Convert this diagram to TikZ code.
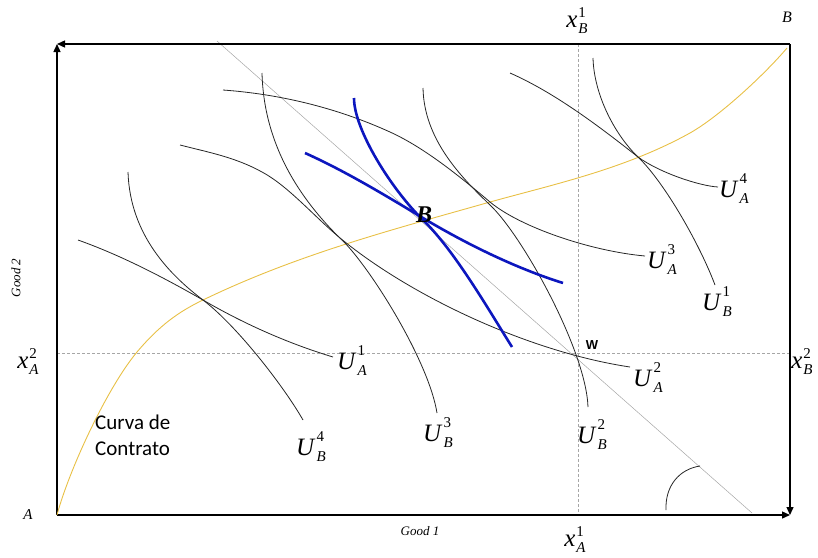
\documentclass[tikz,border=0pt]{standalone}
\usepackage{fontspec}
\setmainfont{Liberation Serif}
\newfontfamily\calibfont{Carlito}
\newfontfamily\arialfont{Liberation Sans}
\usetikzlibrary{arrows.meta}
\definecolor{curveyellow}{RGB}{232,192,70}
\definecolor{curveblue}{RGB}{12,22,190}
\newcommand{\lbl}[4]{\textit{#1}\kern1pt\rlap{\raisebox{#4}{\fontsize{15}{15}\selectfont #2}}\raisebox{-6pt}{\fontsize{15}{15}\selectfont\itshape #3}}
\begin{document}
\begin{tikzpicture}[x=1pt,y=-1pt,
  axis/.style={line width=1.3pt,-{Triangle[length=8pt,width=7pt]}},
  icurve/.style={line width=0.8pt,black!85},
  bluecurve/.style={line width=2.6pt,curveblue},
  contract/.style={line width=0.9pt,curveyellow},
  guide/.style={gray!70,line width=0.5pt,dash pattern=on 3pt off 2pt},
  diag/.style={gray!70,line width=0.5pt},
  ulabel/.style={inner sep=0pt,font=\fontsize{25}{30}\selectfont},
  smalllab/.style={inner sep=0pt,font=\fontsize{14}{16}\selectfont\itshape},
  curvatext/.style={inner sep=0pt,anchor=base west,font=\calibfont\fontsize{21}{25}\selectfont},
]
\useasboundingbox (0,0) rectangle (818,557);
% corners
\coordinate (A0) at (57,515);
\coordinate (TL) at (57,44);
\coordinate (TR) at (790,44);
\coordinate (BR) at (790,515);
% guides
\coordinate (gl) at (57,353);
\coordinate (gr) at (790,353);
\coordinate (gt) at (578,44);
\coordinate (gb) at (578,515);
\coordinate (d1) at (217,41);
\coordinate (d2) at (752,513);
\draw[guide] (gl) -- (gr);
\draw[guide] (gt) -- (gb);
\draw[diag] (d1) -- (d2);
% axes
\draw[axis] (A0) -- (TL);
\draw[axis] (TR) -- (TL);
\draw[axis] (TR) -- (BR);
\draw[axis] (A0) -- (BR);
% angle mark
\draw[icurve] (666,510) .. controls (665,485) and (680,469) .. (700,466);
% contract curve
\draw[contract] (A0) .. controls (69,470) and (107,388) .. (137,352)
  .. controls (159,326) and (178,312) .. (203,300)
  .. controls (298,254) and (395,229) .. (490,202)
  .. controls (555,184) and (625,169) .. (690,133)
  .. controls (720,116) and (765,74) .. (787,48);
% indifference curves of A
\draw[icurve] (78,240) .. controls (120,255) and (161,276) .. (203,300)
  .. controls (246,325) and (290,344) .. (333,357);
\draw[icurve] (180,145) .. controls (207,152) and (235,157) .. (262,172)
  .. controls (290,187) and (317,220) .. (345,242)
  .. controls (415,298) and (530,352) .. (630,367);
\draw[icurve] (223,90) .. controls (278,94) and (335,107) .. (390,132)
  .. controls (423,147) and (457,174) .. (490,202)
  .. controls (520,227) and (590,251) .. (645,256);
\draw[icurve] (510,73) .. controls (553,92) and (595,123) .. (638,157)
  .. controls (660,173) and (700,186) .. (718,187);
% indifference curves of B
\draw[icurve] (128,172) .. controls (130,235) and (170,275) .. (203,300)
  .. controls (236,325) and (283,385) .. (303,420);
\draw[icurve] (262,73) .. controls (264,150) and (305,205) .. (345,243)
  .. controls (375,275) and (429,363) .. (437,413);
\draw[icurve] (423,88) .. controls (424,140) and (462,178) .. (490,205)
  .. controls (522,235) and (586,350) .. (588,407);
\draw[icurve] (593,58) .. controls (594,95) and (615,135) .. (638,157)
  .. controls (665,183) and (700,245) .. (715,285);
% blue curves
\draw[bluecurve] (305,153) .. controls (345,171) and (383,194) .. (423,218)
  .. controls (468,245) and (518,269) .. (563,283);
\draw[bluecurve] (354,98) .. controls (354,130) and (392,190) .. (423,220)
  .. controls (454,250) and (487,307) .. (512,347);
% labels
\node[ulabel] (la1) at (352,361) {\lbl{U}{1}{A}{14pt}};
\node[ulabel] (la2) at (648,378) {\lbl{U}{2}{A}{14pt}};
\node[ulabel] (la3) at (662,260) {\lbl{U}{3}{A}{14pt}};
\node[ulabel] (la4) at (734,189) {\lbl{U}{4}{A}{14pt}};
\node[ulabel] (lb1) at (717,302) {\lbl{U}{1}{B}{14pt}};
\node[ulabel] (lb2) at (592,435) {\lbl{U}{2}{B}{14pt}};
\node[ulabel] (lb3) at (438,433) {\lbl{U}{3}{B}{14pt}};
\node[ulabel] (lb4) at (311,447) {\lbl{U}{4}{B}{14pt}};
\node[ulabel] (xb1) at (577,21) {\lbl{x}{1}{B}{10pt}};
\node[ulabel] (xa1) at (575,540) {\lbl{x}{1}{A}{10pt}};
\node[ulabel] (xa2) at (28,362) {\lbl{x}{2}{A}{10pt}};
\node[ulabel] (xb2) at (802,362) {\lbl{x}{2}{B}{10pt}};
\node[smalllab,font=\fontsize{16}{18}\selectfont\itshape] (Bc) at (787,17) {B};
\node[smalllab,font=\fontsize{15}{18}\selectfont\itshape] (Ac) at (28,515) {A};
\node[smalllab,font=\fontsize{13}{15}\selectfont\itshape] (g1) at (420,531) {Good 1};
\node[smalllab,font=\fontsize{13}{15}\selectfont\itshape,rotate=90] (g2) at (16,278) {Good 2};
\node[inner sep=0pt,font=\arialfont\bfseries\fontsize{13}{15}\selectfont] (W) at (592,345) {W};
\node[inner sep=0pt,font=\fontsize{24}{28}\selectfont\bfseries\itshape] (Bpt) at (424,215) {B};
\node[curvatext] (cc1) at (95,429) {Curva de};
\node[curvatext] (cc2) at (95,455) {Contrato};
\end{tikzpicture}
\end{document}
